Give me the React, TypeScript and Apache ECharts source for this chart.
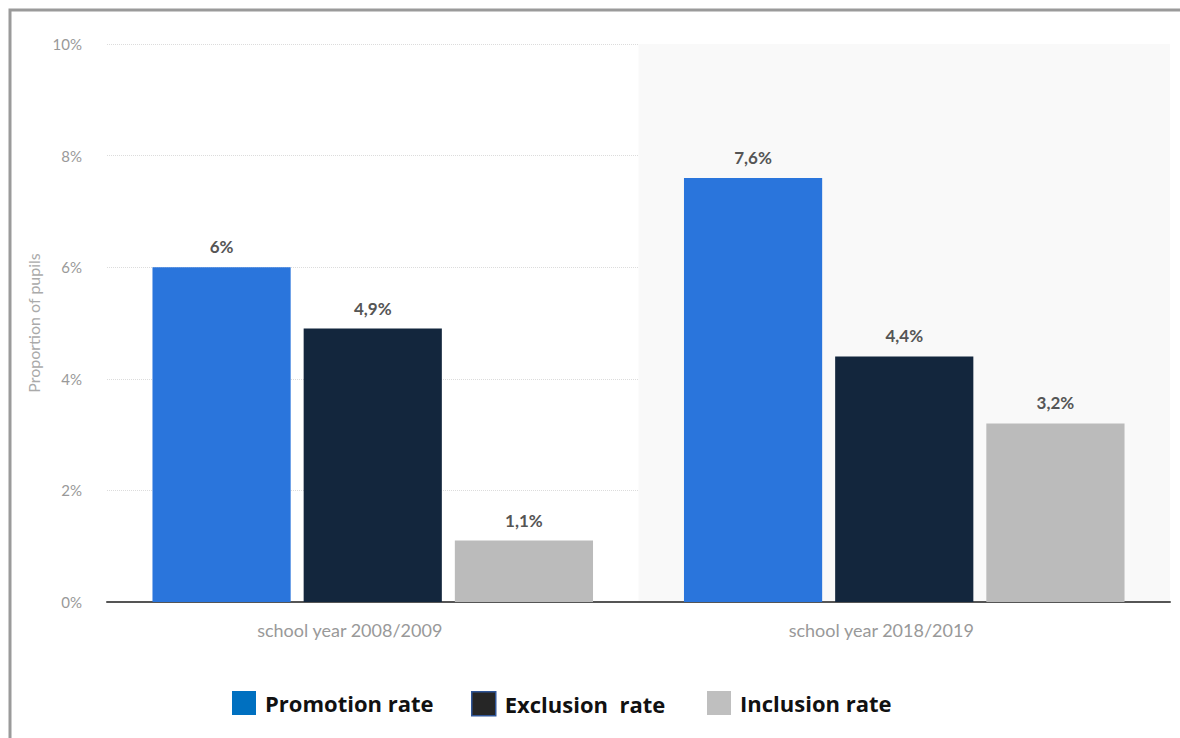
import React, { useEffect, useRef } from "react";
import * as echarts from "echarts";

const categories = ["school year 2008/2009", "school year 2018/2019"];
const seriesNames = ["Promotion rate", "Exclusion  rate", "Inclusion rate"];
const promotion = [6, 7.6];
const exclusion = [4.9, 4.4];
const inclusion = [1.1, 3.2];
const labelTexts = [
  ["6%", "7,6%"],
  ["4,9%", "4,4%"],
  ["1,1%", "3,2%"],
];
const yTicks = [0, 2, 4, 6, 8, 10];

const barColors = ["#2a75dc", "#13263d", "#bbbbbb"];
const legendColors = ["#0070c0", "#262626", "#bfbfbf"];
const legendLefts = [232, 471, 707];
const FONT = "Lato, 'Open Sans', sans-serif";

export default function App() {
  const ref = useRef<HTMLDivElement>(null);
  useEffect(() => {
    document.body.style.margin = "0";
    const chart = echarts.init(ref.current!, null, { renderer: "svg" });
    const values = [promotion, exclusion, inclusion];
    const series = values.map((vals, si) => ({
      name: seriesNames[si],
      type: "bar",
      data: vals,
      barWidth: "26%",
      barGap: "9.4%",
      itemStyle: { color: barColors[si] },
      label: {
        show: true,
        position: "top",
        distance: 12,
        formatter: (p: any) => labelTexts[si][p.dataIndex],
        color: "#555",
        fontWeight: "bold",
        fontSize: 17,
        fontFamily: FONT,
      },
    }));
    const legends = seriesNames.map((n, i) => ({
      left: legendLefts[i],
      top: 691,
      padding: 0,
      itemWidth: 24,
      itemHeight: 24,
      icon: "rect",
      data: [
        {
          name: n,
          itemStyle: {
            color: legendColors[i],
            borderColor: i === 1 ? "#2f5597" : legendColors[i],
            borderWidth: i === 1 ? 1.5 : 0,
          },
        },
      ],
      textStyle: {
        fontFamily: "'Open Sans', Lato, sans-serif",
        fontWeight: "bold",
        fontSize: 22,
        color: "#111",
        padding: [0, 0, 0, 4],
      },
    }));
    chart.setOption({
      animation: false,
      backgroundColor: "#fff",
      grid: { left: 107, right: 10, top: 44, bottom: 136 },
      legend: legends,
      xAxis: {
        type: "category",
        data: categories,
        axisLine: { show: true, lineStyle: { color: "#555", width: 2 } },
        axisTick: { show: false },
        axisLabel: {
          color: "#999",
          fontSize: 18,
          fontFamily: FONT,
          margin: 19,
          padding: [0, 46, 0, 0],
        },
        splitArea: {
          show: true,
          areaStyle: { color: ["rgba(255,255,255,0)", "#f9f9f9"] },
        },
      },
      yAxis: {
        type: "value",
        min: 0,
        max: 10,
        interval: 2,
        name: "Proportion of pupils",
        nameLocation: "middle",
        nameGap: 57,
        nameTextStyle: { color: "#aaa", fontSize: 16, fontFamily: FONT },
        axisLabel: {
          color: "#999",
          fontSize: 15,
          fontFamily: FONT,
          margin: 25,
          formatter: (v: number) => (yTicks.includes(v) ? v + "%" : ""),
        },
        axisLine: { show: false },
        axisTick: { show: false },
        splitLine: { lineStyle: { color: "#dcdcdc", type: "dotted", width: 1 } },
      },
      graphic: [
        {
          type: "rect",
          shape: { x: 10, y: 10, width: 1250, height: 800 },
          style: { fill: "none", stroke: "#9a9a9a", lineWidth: 3 },
          z: 100,
        },
      ],
      series,
    });
    return () => chart.dispose();
  }, []);
  return (
    <div
      ref={ref}
      style={{ position: "absolute", left: 0, top: 0, width: 1180, height: 738 }}
    />
  );
}
